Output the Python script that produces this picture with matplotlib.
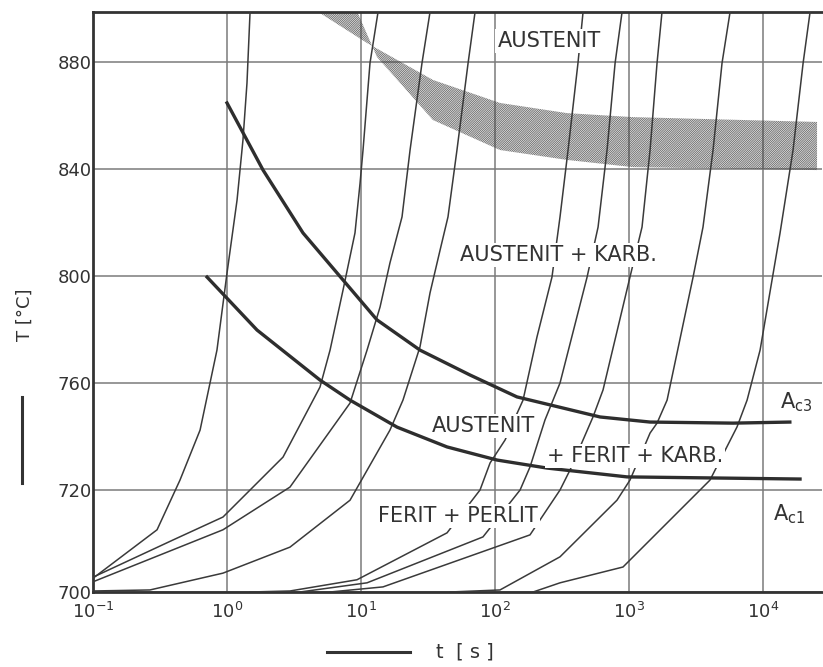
import numpy as np
import matplotlib
matplotlib.use("Agg")
import matplotlib.pyplot as plt
from matplotlib.lines import Line2D
from matplotlib.ticker import NullLocator, FixedLocator

plt.rcParams['font.family'] = ['DejaVu Sans']
plt.rcParams['hatch.linewidth'] = 0.45

# ---------------- data (time as log10 of seconds, temperature in °C) ----------------
temp_ticks = [700, 720, 760, 800, 840, 880]
time_ticks = [0.1, 1, 10, 100, 1000, 10000]

ac3_log_t = [0.0, 0.269, 0.567, 0.866, 1.119, 1.440, 1.813, 2.164, 2.784, 3.157, 3.776, 4.20]
ac3_T = [864.7, 839.6, 816.1, 798.5, 783.6, 772.3, 763.0, 754.8, 747.3, 745.4, 745.0, 745.4]

ac1_log_t = [-0.149, 0.224, 0.694, 0.918, 1.269, 1.642, 2.015, 2.388, 2.985, 3.627, 4.276]
ac1_T = [799.6, 779.8, 761.1, 753.6, 743.5, 736.1, 731.2, 728.2, 724.9, 724.5, 724.1]

band_upper_log_t = [0.672, 1.045, 1.537, 2.037, 2.537, 3.030, 4.403]
band_upper_T = [899.0, 887.1, 873.3, 864.7, 860.9, 859.4, 857.6]
band_lower_log_t = [0.970, 1.119, 1.537, 2.037, 2.537, 3.030, 4.403]
band_lower_T = [899.0, 881.9, 858.3, 847.1, 843.4, 840.7, 839.6]

heat1_log_t = [-1.0, -0.522, -0.351, -0.201, -0.075, 0.0, 0.075, 0.119, 0.149, 0.172]
heat1_T = [702.7, 712.2, 723.7, 742.4, 772.3, 801.1, 828.4, 850.8, 872.1, 898.7]

heat2_log_t = [-1.0, -0.403, -0.030, 0.418, 0.694, 0.769, 0.866, 0.955, 0.993, 1.015, 1.067, 1.127]
heat2_T = [702.9, 710.2, 714.7, 732.3, 758.5, 772.3, 794.8, 816.1, 834.8, 847.1, 879.6, 898.7]

heat3_log_t = [-1.0, -0.030, 0.470, 0.918, 1.045, 1.142, 1.216, 1.306, 1.366, 1.455, 1.515]
heat3_T = [702.0, 712.2, 721.1, 752.5, 772.3, 788.4, 804.9, 822.1, 847.1, 879.6, 898.7]

heat4_log_t = [-1.0, -0.575, -0.030, 0.470, 0.918, 1.216, 1.313, 1.440, 1.515, 1.590, 1.649, 1.716, 1.799, 1.851]
heat4_T = [700.2, 700.4, 703.7, 708.8, 718.0, 742.4, 753.6, 773.5, 793.7, 809.7, 822.1, 847.1, 879.6, 898.7]

heat5_log_t = [0.172, 0.470, 0.970, 1.642, 1.888, 1.963, 2.075, 2.209, 2.313, 2.425, 2.485, 2.545, 2.619, 2.657]
heat5_T = [700.0, 700.2, 702.4, 711.6, 720.0, 730.1, 738.7, 753.6, 777.2, 799.6, 822.1, 847.1, 879.6, 898.7]

heat6_log_t = [0.545, 1.045, 1.910, 2.187, 2.261, 2.373, 2.485, 2.687, 2.769, 2.836, 2.896, 2.948]
heat6_T = [700.0, 701.8, 710.8, 720.0, 728.6, 746.2, 760.0, 799.6, 818.3, 847.1, 879.6, 898.7]

heat7_log_t = [0.769, 1.164, 2.261, 2.485, 2.560, 2.731, 2.806, 3.007, 3.097, 3.157, 3.209, 3.246]
heat7_T = [700.0, 701.0, 711.2, 720.0, 727.5, 747.3, 757.4, 799.6, 818.3, 847.1, 879.6, 898.7]

heat8_log_t = [1.664, 2.037, 2.485, 2.910, 3.007, 3.157, 3.209, 3.284, 3.478, 3.552, 3.627, 3.694, 3.754]
heat8_T = [700.0, 700.4, 706.9, 718.0, 723.7, 741.3, 745.0, 753.6, 799.6, 818.3, 847.1, 879.6, 898.7]

heat9_log_t = [2.284, 2.485, 2.955, 3.604, 3.806, 3.881, 3.978, 4.127, 4.224, 4.299, 4.351]
heat9_T = [700.0, 701.8, 704.9, 723.7, 743.6, 753.6, 772.3, 816.1, 847.1, 879.6, 898.7]

heating_curves = [
    (heat1_log_t, heat1_T), (heat2_log_t, heat2_T), (heat3_log_t, heat3_T),
    (heat4_log_t, heat4_T), (heat5_log_t, heat5_T), (heat6_log_t, heat6_T),
    (heat7_log_t, heat7_T), (heat8_log_t, heat8_T), (heat9_log_t, heat9_T),
]

# ---------------- piecewise temperature scale (700-720 drawn as wide as 40 °C steps) ----------------
K = 102.0 / 107.0


def fwd(T):
    T = np.asarray(T, dtype=float)
    return np.where(T < 720, (T - 700) / 20.0 * K, K + (T - 720) / 40.0)


def inv(u):
    u = np.asarray(u, dtype=float)
    return np.where(u < K, 700 + u / K * 20.0, 720 + (u - K) * 40.0)


ink = '#3a3a3a'
gridc = '#7a7a7a'

fig = plt.figure(figsize=(8.23, 6.67), dpi=100)
fig.patch.set_facecolor('white')
ax = fig.add_axes([93 / 823, 1 - 592 / 667, (822 - 93) / 823, (592 - 12) / 667])
ax.set_xscale('log')
ax.set_yscale('function', functions=(fwd, inv))
ax.set_xlim(0.1, 10 ** 4.44)
ax.set_ylim(700, 898.7)

ax.xaxis.set_major_locator(FixedLocator(time_ticks))
ax.xaxis.set_minor_locator(NullLocator())
ax.yaxis.set_major_locator(FixedLocator(temp_ticks))
ax.yaxis.set_minor_locator(NullLocator())
ax.set_yticklabels([str(v) for v in temp_ticks])
ax.grid(True, color=gridc, lw=1.1, zorder=1)
ax.set_axisbelow(True)
ax.tick_params(axis='both', length=0, labelsize=13, colors='#333333')
ax.tick_params(axis='y', pad=1)
ax.tick_params(axis='x', pad=7)

for side in ['left', 'bottom', 'top']:
    ax.spines[side].set_linewidth(2.0)
    ax.spines[side].set_color('#333333')
ax.spines['right'].set_visible(False)

# hatched band
band_x = [10 ** v for v in band_upper_log_t] + [10 ** v for v in band_lower_log_t[::-1]]
band_y = band_upper_T + band_lower_T[::-1]
ax.fill(band_x, band_y, facecolor='none', edgecolor='#444444', hatch='/' * 18, lw=0, zorder=2)

# heating curves
for lt, T in heating_curves:
    ax.plot([10 ** v for v in lt], T, color=ink, lw=1.1, zorder=3)

# Ac3 and Ac1 lines
ax.plot([10 ** v for v in ac3_log_t], ac3_T, color='#2e2e2e', lw=2.4, zorder=4)
ax.plot([10 ** v for v in ac1_log_t], ac1_T, color='#2e2e2e', lw=2.4, zorder=4)

# region labels
box = dict(facecolor='white', edgecolor='none', pad=1.5)
tk = dict(transform=ax.transAxes, ha='center', va='center', fontsize=15, color='#333333', zorder=6)
ax.text(0.6255, 0.950, 'AUSTENIT', bbox=box, **tk)
ax.text(0.638, 0.581, 'AUSTENIT + KARB.', bbox=box, **tk)
ax.text(0.535, 0.286, 'AUSTENIT', bbox=box, **tk)
ax.text(0.7435, 0.2345, '+ FERIT + KARB.', bbox=box, **tk)
ax.text(0.5007, 0.131, 'FERIT + PERLIT', bbox=box, **tk)
ax.text(0.942, 0.3276, r'A$_{\mathrm{c3}}$', transform=ax.transAxes, ha='left', va='center',
        fontsize=15, color='#333333', zorder=6)
ax.text(0.933, 0.134, r'A$_{\mathrm{c1}}$', transform=ax.transAxes, ha='left', va='center',
        fontsize=15, color='#333333', zorder=6)

# axis titles with arrow shafts
fig.text(25 / 823, 1 - 315 / 667, 'T [°C]', rotation=90, ha='center', va='center',
         fontsize=13, color='#333333')
fig.add_artist(Line2D([22 / 823, 22 / 823], [1 - 397 / 667, 1 - 483 / 667],
                      transform=fig.transFigure, color='#333333', lw=2.2))
fig.text(465 / 823, 1 - 652 / 667, 't  [ s ]', ha='center', va='center', fontsize=14, color='#333333')
fig.add_artist(Line2D([327 / 823, 410 / 823], [1 - 652 / 667, 1 - 652 / 667],
                      transform=fig.transFigure, color='#333333', lw=2.2))

fig.savefig('out.png', dpi=100, facecolor='white')
